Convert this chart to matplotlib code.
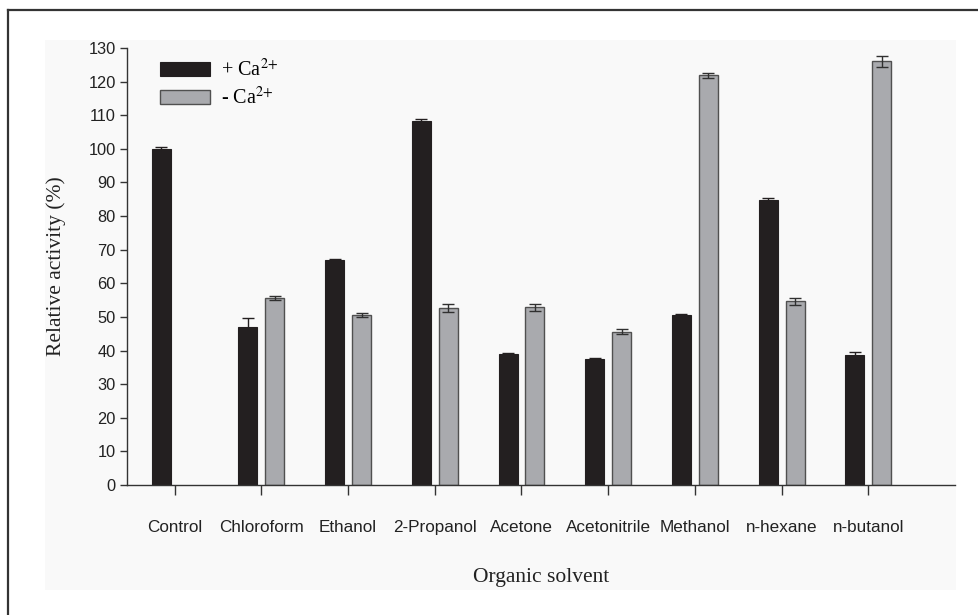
import numpy as np
import matplotlib.pyplot as plt
from matplotlib.lines import Line2D
from matplotlib.patches import Rectangle

plt.rcParams["mathtext.fontset"] = "stix"

# ---------- Data ----------
solvents = ["Control", "Chloroform", "Ethanol", "2-Propanol", "Acetone",
            "Acetonitrile", "Methanol", "n-hexane", "n-butanol"]
with_ca = [100.0, 47.1, 66.9, 108.2, 39.0, 37.4, 50.6, 84.9, 38.8]
with_ca_err = [0.5, 2.6, 0.3, 0.8, 0.3, 0.3, 0.4, 0.4, 0.8]
without_ca = [np.nan, 55.5, 50.6, 52.6, 52.8, 45.6, 121.9, 54.6, 126.0]
without_ca_err = [0.0, 0.6, 0.5, 1.2, 0.9, 0.7, 0.8, 1.0, 1.6]
yticks = list(range(0, 131, 10))

# ---------- Plot ----------
fig = plt.figure(figsize=(9.79, 6.15), dpi=100)
fig.patches.append(Rectangle((0.046, 0.04), 0.93, 0.895, transform=fig.transFigure,
                             facecolor="#f9f9f9", edgecolor="none", zorder=-5))
# frame lines (top and left only)
fig.add_artist(Line2D([0.008, 0.008], [0.0, 0.984], transform=fig.transFigure, color="#333333", lw=1.6))
fig.add_artist(Line2D([0.008, 1.0], [0.984, 0.984], transform=fig.transFigure, color="#333333", lw=1.6))

ax = fig.add_axes([0.1297, 0.2114, 0.8458, 0.7106])
ax.patch.set_alpha(0)

x = np.arange(len(solvents))
w = 0.22
ax.bar(x - 0.155, with_ca, w, color="#231f20", edgecolor="#231f20", lw=0.8,
       label="+ Ca$^{2{+}}$", zorder=2)
ax.bar(x + 0.155, without_ca, w, color="#a9aaae", edgecolor="#505050", lw=1.0,
       label="- Ca$^{2{+}}$", zorder=2)
ax.errorbar(x - 0.155, with_ca, yerr=with_ca_err, fmt="none", ecolor="#231f20",
            elinewidth=1.0, capsize=4.5, capthick=1.0, zorder=3)
ax.errorbar(x + 0.155, without_ca, yerr=without_ca_err, fmt="none", ecolor="#303030",
            elinewidth=1.0, capsize=4.5, capthick=1.0, zorder=3)

ax.set_xlim(-0.55, 9.0)
ax.set_ylim(0, 130)
ax.set_yticks(yticks)
ax.set_xticks(x)
ax.set_xticklabels(solvents, family="Liberation Sans", fontsize=12.3, color="#222222")
for lab in ax.get_yticklabels():
    lab.set_family("Liberation Sans")
    lab.set_fontsize(11.8)
    lab.set_color("#222222")
ax.tick_params(axis="x", length=7, width=1, pad=18, colors="#333333", labelcolor="#222222")
ax.tick_params(axis="y", length=5, width=1, pad=3, colors="#333333", labelcolor="#222222")
for side in ["top", "right"]:
    ax.spines[side].set_visible(False)
for side in ["left", "bottom"]:
    ax.spines[side].set_color("#333333")
    ax.spines[side].set_linewidth(1.0)

ax.set_ylabel("Relative activity (%)", family="Liberation Serif", fontsize=15.5,
              color="#222222", labelpad=16)
ax.set_xlabel("Organic solvent", family="Liberation Serif", fontsize=15.5,
              color="#222222", labelpad=24)

ax.legend(loc="upper left", bbox_to_anchor=(0.04, 0.975), frameon=False,
          prop={"family": "Liberation Serif", "size": 14.5},
          handlelength=2.5, handleheight=0.72, handletextpad=0.5,
          labelspacing=0.3, borderpad=0, borderaxespad=0)

fig.savefig("out.png", dpi=100)
